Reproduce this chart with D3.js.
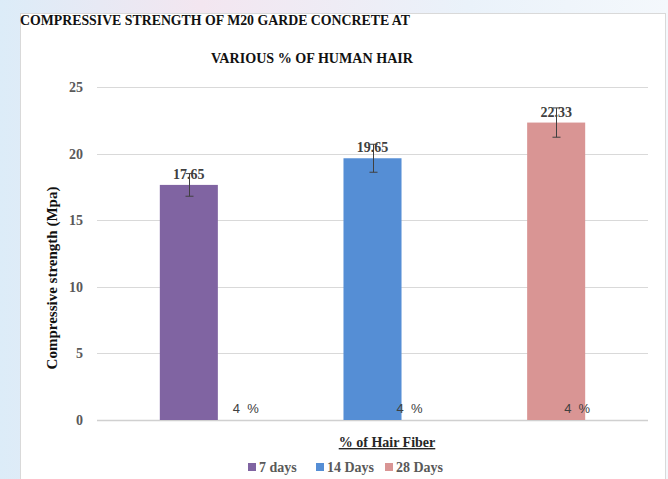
<!DOCTYPE html>
<html>
<head>
<meta charset="utf-8">
<script src="https://cdn.jsdelivr.net/npm/d3@7"></script>
<style>
  body { margin: 0; background: #eaf4fb; }
  svg { display: block; }
</style>
</head>
<body>
<div id="chart"></div>
<script>
// data
const series = ["7 days", "14 Days", "28 Days"];
const values = [17.65, 19.65, 22.33];
const errors = [0.85, 1.05, 1.1];
const catLabels = ["4 %", "4 %", "4 %"];
const yTicks = [0, 5, 10, 15, 20, 25];
const colors = ["#8064a2", "#558ed5", "#d99594"];

const W = 668, H = 479;
const margin = {top: 87, right: 20, bottom: 59, left: 97};

const svg = d3.select("#chart").append("svg")
    .attr("width", W)
    .attr("height", H);

// soft backdrop like the screenshot
const defs = svg.append("defs");
const grad = defs.append("linearGradient").attr("id", "bg").attr("x1", 0).attr("y1", 0).attr("x2", 1).attr("y2", 0);
grad.append("stop").attr("offset", "0%").attr("stop-color", "#dcecf8");
grad.append("stop").attr("offset", "30%").attr("stop-color", "#f3e6f0");
grad.append("stop").attr("offset", "70%").attr("stop-color", "#eaf2fa");
grad.append("stop").attr("offset", "100%").attr("stop-color", "#f4f8fc");
svg.append("rect").attr("width", W).attr("height", H).attr("fill", "url(#bg)");

// chart box
svg.append("rect")
    .attr("x", 20.5).attr("y", 13.5)
    .attr("width", 645).attr("height", H)
    .attr("fill", "#fff")
    .attr("stroke", "#d9d9d9");

const x = d3.scaleBand()
    .domain(series)
    .range([margin.left, 648])
    .paddingInner(0.684)
    .paddingOuter(0.342);

const y = d3.scaleLinear()
    .domain([0, 25])
    .range([420, margin.top]);

// gridlines
svg.append("g")
    .selectAll("line")
    .data(yTicks)
    .join("line")
    .attr("x1", margin.left).attr("x2", 648)
    .attr("y1", d => Math.round(y(d)) + 0.5)
    .attr("y2", d => Math.round(y(d)) + 0.5)
    .attr("stroke", d => d === 0 ? "#d0d0d0" : "#d9d9d9")
    .attr("stroke-width", d => d === 0 ? 1.5 : 1);

// y axis labels
svg.append("g")
    .selectAll("text")
    .data(yTicks)
    .join("text")
    .attr("x", 83)
    .attr("y", d => y(d))
    .attr("dy", "0.35em")
    .attr("text-anchor", "end")
    .attr("font-family", "Liberation Serif, serif")
    .attr("font-weight", "bold")
    .attr("font-size", 14)
    .attr("fill", "#595959")
    .text(d => d);

// bars
svg.append("g")
    .selectAll("rect")
    .data(values)
    .join("rect")
    .attr("x", (d, i) => x(series[i]))
    .attr("y", d => y(d))
    .attr("width", x.bandwidth())
    .attr("height", d => y(0) - y(d))
    .attr("fill", (d, i) => colors[i]);

// error bars
const eb = svg.append("g").attr("stroke", "#404040").attr("stroke-width", 1);
values.forEach(function(v, i) {
    const cx = Math.round(x(series[i]) + x.bandwidth() / 2) + 0.5;
    eb.append("line").attr("x1", cx).attr("x2", cx)
        .attr("y1", y(v + errors[i])).attr("y2", y(v - errors[i]));
    eb.append("line").attr("x1", cx - 4).attr("x2", cx + 4)
        .attr("y1", y(v + errors[i])).attr("y2", y(v + errors[i]));
    eb.append("line").attr("x1", cx - 4).attr("x2", cx + 4)
        .attr("y1", y(v - errors[i])).attr("y2", y(v - errors[i]));
});

// value labels
svg.append("g")
    .selectAll("text")
    .data(values)
    .join("text")
    .attr("x", (d, i) => x(series[i]) + x.bandwidth() / 2)
    .attr("y", d => y(d) - 6)
    .attr("text-anchor", "middle")
    .attr("font-family", "Liberation Serif, serif")
    .attr("font-weight", "bold")
    .attr("font-size", 14)
    .attr("fill", "#404040")
    .text(d => d.toFixed(2));

// category labels sit a bit right of each bar, like the original
const labelShift = [57, 37, 21];
svg.append("g")
    .selectAll("text")
    .data(catLabels)
    .join("text")
    .attr("x", (d, i) => x(series[i]) + x.bandwidth() / 2 + labelShift[i])
    .attr("y", 413)
    .attr("text-anchor", "middle")
    .attr("font-family", "Liberation Sans, Arial, sans-serif")
    .attr("font-size", 13)
    .attr("fill", "#404040")
    .attr("xml:space", "preserve")
    .text(d => d.replace(" ", "  "));

// titles
svg.append("text")
    .attr("x", 20).attr("y", 25)
    .attr("font-family", "Liberation Serif, serif")
    .attr("font-weight", "bold")
    .attr("font-size", 14)
    .attr("textLength", 390)
    .attr("lengthAdjust", "spacingAndGlyphs")
    .attr("fill", "#111")
    .text("COMPRESSIVE STRENGTH OF M20 GARDE CONCRETE AT");

svg.append("text")
    .attr("x", 211).attr("y", 63)
    .attr("font-family", "Liberation Serif, serif")
    .attr("font-weight", "bold")
    .attr("font-size", 14)
    .attr("textLength", 202)
    .attr("lengthAdjust", "spacingAndGlyphs")
    .attr("fill", "#111")
    .text("VARIOUS % OF HUMAN HAIR");

// y axis title
svg.append("text")
    .attr("transform", "translate(57,278) rotate(-90)")
    .attr("text-anchor", "middle")
    .attr("font-family", "Liberation Serif, serif")
    .attr("font-weight", "bold")
    .attr("font-size", 15)
    .attr("fill", "#111")
    .text("Compressive strength (Mpa)");

// x axis title
svg.append("text")
    .attr("x", 387).attr("y", 447)
    .attr("text-anchor", "middle")
    .attr("font-family", "Liberation Serif, serif")
    .attr("font-weight", "bold")
    .attr("font-size", 14)
    .attr("text-decoration", "underline")
    .attr("fill", "#262626")
    .text("% of Hair Fiber");

// legend
const legendX = [248, 316, 385];
const legend = svg.append("g")
    .selectAll("g")
    .data(series)
    .join("g")
    .attr("transform", (d, i) => "translate(" + legendX[i] + ",463)");

legend.append("rect")
    .attr("width", 8).attr("height", 8)
    .attr("fill", (d, i) => colors[i]);

legend.append("text")
    .attr("x", 11).attr("y", 4)
    .attr("dy", "0.35em")
    .attr("font-family", "Liberation Serif, serif")
    .attr("font-weight", "bold")
    .attr("font-size", 14)
    .attr("fill", "#595959")
    .text(d => d);
</script>
</body>
</html>
